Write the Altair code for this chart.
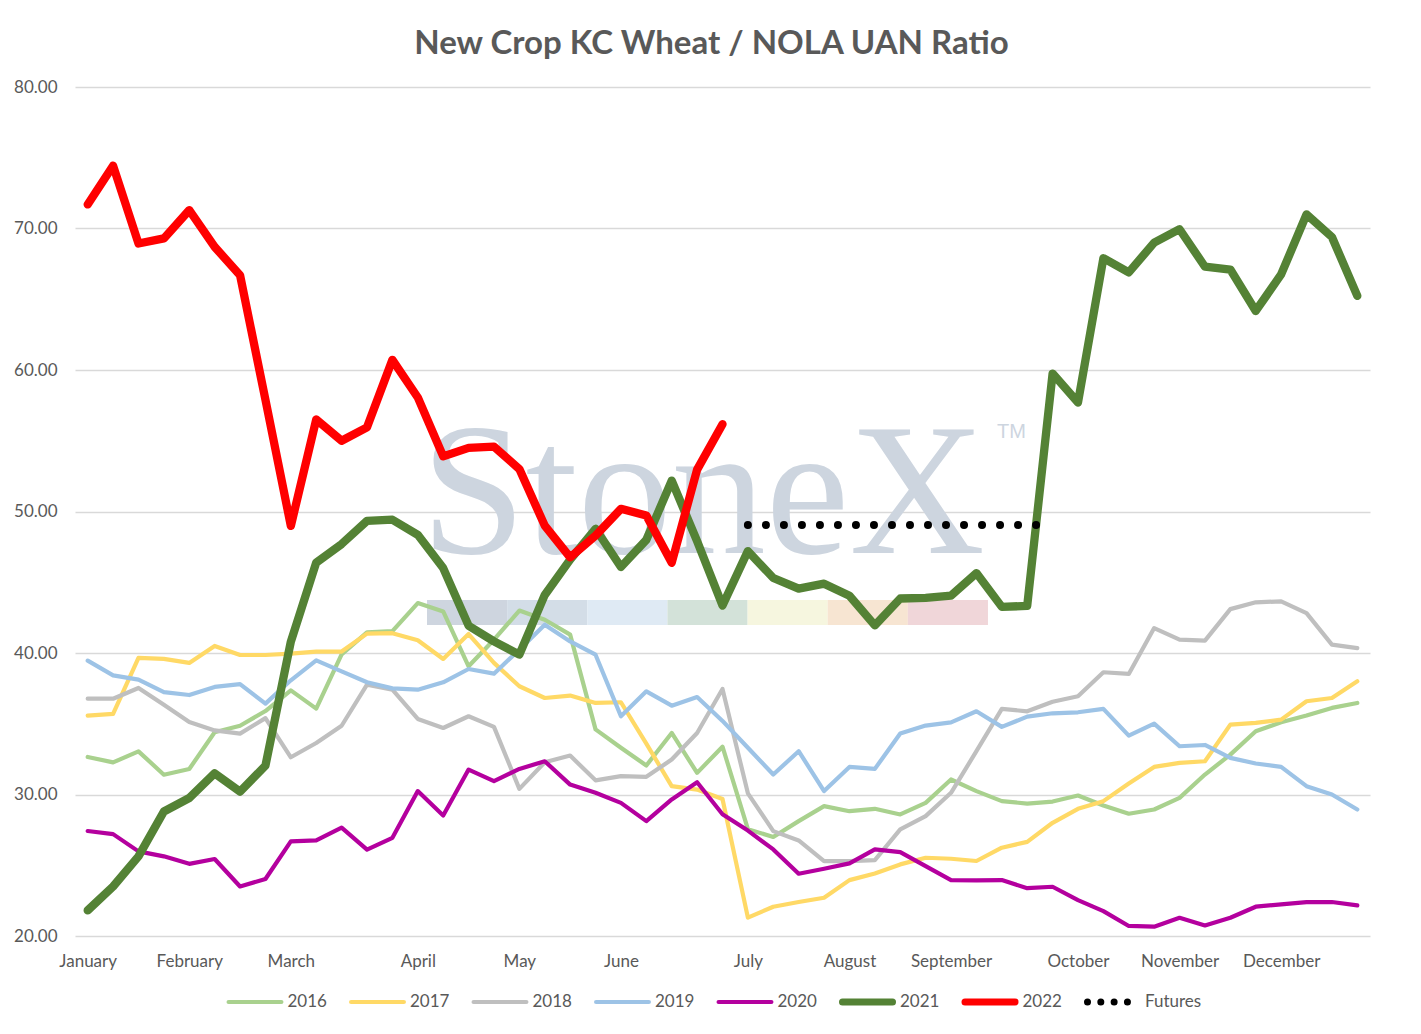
import altair as alt
import pandas as pd

# ---------------- data ----------------
months = ["January", "February", "March", "April", "May", "June", "July",
          "August", "September", "October", "November", "December"]
month_idx = [0, 4, 8, 13, 17, 21, 26, 30, 34, 39, 43, 47]

v2016 = [32.65, 32.27, 33.05, 31.4, 31.8, 34.4, 34.86, 35.9, 37.36, 36.07, 39.9, 41.46, 41.55,
         43.53, 42.94, 39.06, 40.94, 43.0, 42.35, 41.3, 34.6, 33.3, 32.05, 34.35, 31.53, 33.38,
         27.55, 27.0, 28.12, 29.18, 28.82, 28.99, 28.59, 29.41, 31.06, 30.24, 29.53, 29.36, 29.5,
         29.93, 29.22, 28.64, 28.94, 29.76, 31.41, 32.82, 34.47, 35.11, 35.58, 36.12, 36.47]
v2017 = [35.57, 35.7, 39.65, 39.58, 39.3, 40.5, 39.86, 39.86, 39.95, 40.1, 40.1, 41.37, 41.4,
         40.9, 39.58, 41.34, 39.3, 37.65, 36.82, 36.99, 36.47, 36.52, 33.6, 30.59, 30.35, 29.68,
         21.3, 22.07, 22.4, 22.7, 23.95, 24.42, 25.06, 25.53, 25.46, 25.3, 26.24, 26.65, 28.0,
         28.99, 29.53, 30.78, 31.95, 32.24, 32.35, 34.94, 35.06, 35.29, 36.59, 36.82, 38.0]
v2018 = [36.77, 36.77, 37.53, 36.35, 35.12, 34.53, 34.3, 35.4, 32.63, 33.64, 34.86, 37.76, 37.41,
         35.34, 34.7, 35.53, 34.78, 30.4, 32.28, 32.75, 31.0, 31.3, 31.25, 32.47, 34.35, 37.46,
         30.08, 27.41, 26.75, 25.29, 25.29, 25.36, 27.53, 28.47, 30.12, 33.06, 36.05, 35.88, 36.55,
         36.94, 38.64, 38.52, 41.76, 40.94, 40.87, 43.1, 43.58, 43.65, 42.82, 40.59, 40.35]
v2019 = [39.46, 38.42, 38.12, 37.24, 37.03, 37.6, 37.8, 36.42, 38.07, 39.48, 38.7, 37.93, 37.5,
         37.41, 37.93, 38.87, 38.54, 40.24, 42.0, 40.82, 39.88, 35.53, 37.29, 36.28, 36.89, 35.2,
         33.3, 31.41, 33.06, 30.24, 31.95, 31.81, 34.31, 34.87, 35.1, 35.88, 34.78, 35.5, 35.74,
         35.81, 36.05, 34.16, 35.01, 33.41, 33.5, 32.59, 32.19, 31.95, 30.59, 30.0, 28.94]
v2020 = [27.42, 27.2, 25.98, 25.63, 25.1, 25.44, 23.5, 24.03, 26.69, 26.76, 27.66, 26.1, 26.94,
         30.24, 28.52, 31.76, 30.94, 31.81, 32.35, 30.7, 30.12, 29.41, 28.12, 29.65, 30.87, 28.6,
         27.45, 26.12, 24.4, 24.75, 25.13, 26.12, 25.93, 24.94, 23.95, 23.93, 23.95, 23.38, 23.48,
         22.54, 21.76, 20.71, 20.66, 21.29, 20.75, 21.29, 22.07, 22.24, 22.4, 22.4, 22.16]
v2021 = [21.81, 23.5, 25.63, 28.8, 29.75, 31.5, 30.2, 32.04, 40.8, 46.39, 47.7, 49.34, 49.42,
         48.35, 46.0, 41.93, 40.82, 39.88, 44.1, 46.6, 48.78, 46.08, 48.0, 52.18, 47.9, 43.35,
         47.2, 45.3, 44.55, 44.9, 44.05, 41.95, 43.85, 43.9, 44.05, 45.65, 43.26, 43.33, 59.75,
         57.7, 67.9, 66.9, 69.0, 69.95, 67.3, 67.1, 64.17, 66.75, 71.0, 69.4, 65.24]
v2022 = [71.7, 74.44, 68.94, 69.3, 71.3, 68.7, 66.7, 57.9, 48.98, 56.5, 55.0, 55.95, 60.72,
         58.06, 53.9, 54.5, 54.58, 53.0, 49.0, 46.76, 48.3, 50.19, 49.72, 46.38, 52.96, 56.17]
futures_start = 26
futures = [49.05, 49.05, 49.05, 49.05, 49.05, 49.05, 49.05, 49.05, 49.05, 49.05, 49.05, 49.05, 49.05]

series_names = ["2016", "2017", "2018", "2019", "2020", "2021", "2022"]
series_values = [v2016, v2017, v2018, v2019, v2020, v2021, v2022]
series_colors = ["#a9d18e", "#ffd966", "#bfbfbf", "#9dc3e6", "#b4009e", "#548235", "#ff0000"]
thin_names = ["2016", "2017", "2018", "2019", "2020"]
thick_names = ["2021", "2022"]

rows = []
for name, vals in zip(series_names, series_values):
    for i, v in enumerate(vals):
        rows.append({"series": name, "idx": i, "value": v})
df = pd.DataFrame(rows)
fut_df = pd.DataFrame({"series": "Futures",
                       "idx": list(range(futures_start, futures_start + len(futures))),
                       "value": futures})

# ---------------- styling ----------------
FONT = "Lato"
TXT = "#595959"
GRID = "#d9d9d9"
W, H = 1295, 849

label_expr = "[" + ",".join("'%s'" % m for m in months) + "][indexof([" + \
    ",".join(str(i) for i in month_idx) + "], datum.value)]"

x_enc = alt.X("idx:Q",
              scale=alt.Scale(domain=[-0.5, 50.5], nice=False, zero=False),
              axis=alt.Axis(values=month_idx, labelExpr=label_expr, grid=False, domain=False,
                            ticks=False, tickSize=0, labelPadding=17, labelFont=FONT,
                            labelFontSize=17, labelColor=TXT, title=None,
                            labelOverlap=False, labelFlush=False))
y_enc = alt.Y("value:Q",
              scale=alt.Scale(domain=[20, 80], nice=False, zero=False),
              axis=alt.Axis(values=[20, 30, 40, 50, 60, 70, 80], format=".2f", grid=True,
                            gridColor=GRID, gridWidth=1.6, domain=False, ticks=False,
                            tickSize=0, labelPadding=18, labelFont=FONT, labelFontSize=17,
                            labelColor=TXT, title=None))
color_scale = alt.Scale(domain=series_names, range=series_colors)

base = alt.Chart(df)

thin = base.transform_filter(
    alt.FieldOneOfPredicate(field="series", oneOf=thin_names)
).mark_line(strokeWidth=4.2, strokeJoin="round", strokeCap="round").encode(
    x=x_enc, y=y_enc,
    color=alt.Color("series:N", scale=color_scale, legend=None),
)

thick = base.transform_filter(
    alt.FieldOneOfPredicate(field="series", oneOf=thick_names)
).mark_line(strokeWidth=8.3, strokeJoin="round", strokeCap="round").encode(
    x=x_enc, y=y_enc,
    color=alt.Color("series:N", scale=color_scale, legend=None),
)

fut = alt.Chart(fut_df).mark_line(
    color="black", strokeWidth=8, strokeDash=[0.01, 18], strokeCap="round"
).encode(x=x_enc, y=y_enc)

# ---------------- watermark (logo decoration) ----------------
stripe_colors = ["#cbd3dd", "#d1dbe6", "#dde9f3", "#d1e0d7", "#f6f5dd", "#f7e4d0", "#efd4d7"]
stripe_df = pd.DataFrame({"k": list(range(len(stripe_colors))), "c": stripe_colors})
stripe = alt.Chart(stripe_df).transform_calculate(
    x0="352 + 80.14 * datum.k", x1="352 + 80.14 * (datum.k + 1)"
).mark_rect(opacity=0.95).encode(
    x=alt.X("x0:Q", scale=None, axis=None),
    x2="x1:Q",
    y=alt.value(513), y2=alt.value(538),
    color=alt.Color("c:N", scale=None),
)
logo = alt.Chart(pd.DataFrame({"t": ["StoneX"]})).mark_text(
    font="Liberation Serif", fontSize=188, color="#cdd5df", align="left", baseline="alphabetic"
).encode(text="t:N", x=alt.value(346), y=alt.value(466))
tm = alt.Chart(pd.DataFrame({"t": ["TM"]})).mark_text(
    font="Liberation Sans", fontSize=20, color="#cdd5df", align="left", baseline="top"
).encode(text="t:N", x=alt.value(922), y=alt.value(335))

# ---------------- legend (drawn below plot) ----------------
leg_df = pd.DataFrame({"series": series_names + ["Futures"],
                       "k": list(range(len(series_names) + 1))})
leg_base = alt.Chart(leg_df).transform_calculate(
    sx="151.5 + 122.5 * datum.k",
    w="(datum.series == '2021' || datum.series == '2022') ? 7 : 4.2",
)
leg_solid = leg_base.transform_filter("datum.series != 'Futures'").transform_calculate(
    a="datum.sx + datum.w / 2", b="datum.sx + 57 - datum.w / 2"
).mark_rule(strokeCap="round").encode(
    x=alt.X("a:Q", scale=None, axis=None), x2="b:Q",
    y=alt.value(915),
    color=alt.Color("series:N", scale=color_scale, legend=None),
    strokeWidth=alt.StrokeWidth("w:Q", scale=None, legend=None),
)
leg_dots = leg_base.transform_filter("datum.series == 'Futures'").transform_calculate(
    a="datum.sx + 3.5", b="datum.sx + 43.7"
).mark_rule(strokeCap="round", strokeDash=[0.01, 13.3], strokeWidth=7, color="black").encode(
    x=alt.X("a:Q", scale=None, axis=None), x2="b:Q", y=alt.value(915),
)
leg_text = leg_base.transform_calculate(tx="datum.sx + 61").mark_text(
    font=FONT, fontSize=17, color=TXT, align="left", baseline="middle"
).encode(x=alt.X("tx:Q", scale=None, axis=None), y=alt.value(915), text="series:N")

chart = alt.layer(
    stripe, logo, tm, thin, thick, fut, leg_solid, leg_dots, leg_text
).properties(
    width=W, height=H,
    title=alt.TitleParams("New Crop KC Wheat / NOLA UAN Ratio", font=FONT, fontSize=33,
                          fontWeight="bold", color=TXT, anchor="middle", offset=17, dx=-11),
    autosize=alt.AutoSizeParams(type="none"),
    padding={"left": 67, "top": 79, "right": 43, "bottom": 87},
    background="white",
).configure_view(strokeWidth=0, stroke=None)

chart.save("out.html", embed_options={"renderer": "svg", "actions": False})
